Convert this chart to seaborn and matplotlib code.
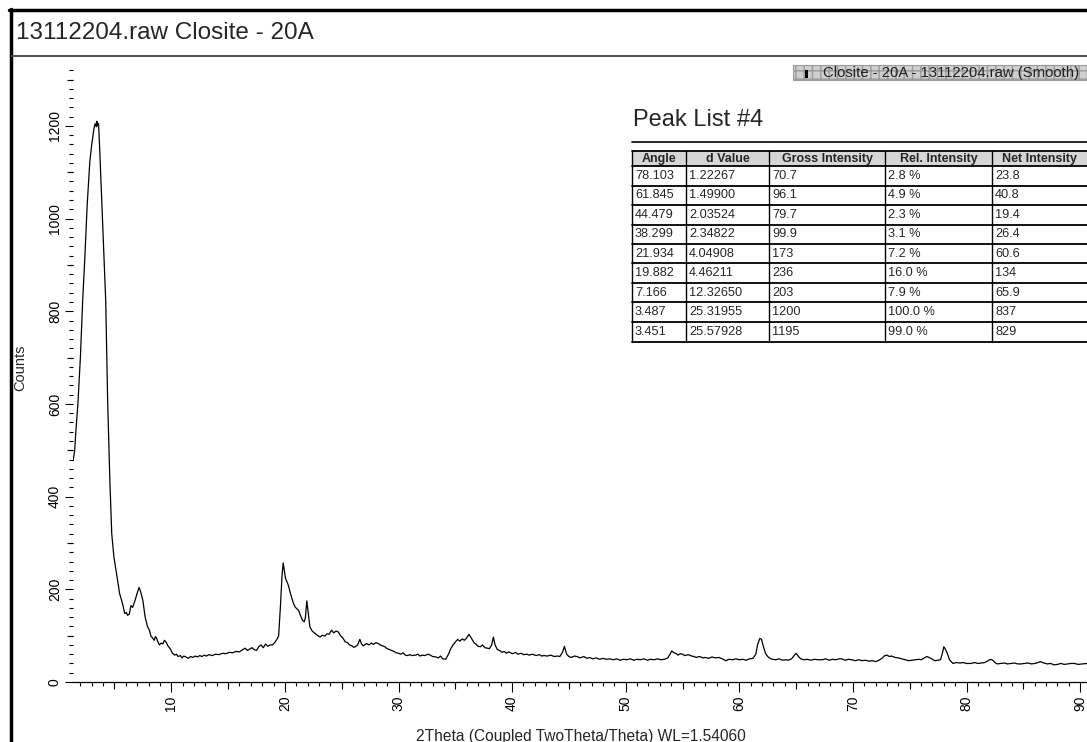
import numpy as np
import pandas as pd
import matplotlib
matplotlib.use("Agg")
import matplotlib.pyplot as plt
import seaborn as sns
from matplotlib.lines import Line2D
from matplotlib.patches import Rectangle

# ---------------- data ----------------
two_theta = [
    1.35, 1.5, 1.6, 1.78, 2.0, 2.2, 2.4, 2.6, 2.83, 3.0, 3.2, 3.3, 3.4, 3.45, 3.5, 3.6, 3.7, 3.87, 4.05, 4.23,
    4.4, 4.6, 4.76, 4.95, 5.1, 5.3, 5.45, 5.63, 5.75, 5.9, 6.05, 6.15, 6.3, 6.45, 6.6, 6.8, 7.0, 7.17, 7.3, 7.4,
    7.5, 7.7, 7.9, 8.07, 8.2, 8.35, 8.5, 8.6, 8.7, 8.8, 8.95, 9.1, 9.25, 9.4, 9.55, 9.7, 9.8, 9.95, 10.1, 10.3,
    10.45, 10.6, 10.8, 10.95, 11.1, 11.3, 11.5, 11.7, 11.9, 12.1, 12.3, 12.5, 12.7, 12.9, 13.1, 13.3, 13.6, 13.9, 14.2, 14.5,
    14.8, 15.1, 15.4, 15.7, 16.0, 16.3, 16.5, 16.7, 16.9, 17.1, 17.3, 17.5, 17.7, 17.9, 18.1, 18.3, 18.5, 18.7, 18.9, 19.1,
    19.3, 19.45, 19.6, 19.75, 19.85, 19.95, 20.05, 20.2, 20.3, 20.5, 20.75, 20.9, 21.05, 21.2, 21.35, 21.55, 21.7, 21.8, 21.93, 22.05,
    22.2, 22.4, 22.65, 22.9, 23.1, 23.3, 23.5, 23.7, 23.9, 24.1, 24.3, 24.5, 24.7, 24.9, 25.1, 25.3, 25.5, 25.7, 25.9, 26.05,
    26.2, 26.4, 26.6, 26.75, 26.9, 27.0, 27.2, 27.4, 27.6, 27.8, 28.0, 28.2, 28.4, 28.6, 28.8, 29.0, 29.2, 29.4, 29.6, 29.8,
    30.0, 30.2, 30.4, 30.6, 30.8, 31.0, 31.2, 31.5, 31.7, 31.9, 32.1, 32.3, 32.6, 32.8, 33.0, 33.3, 33.5, 33.7, 33.9, 34.15,
    34.4, 34.6, 34.8, 35.0, 35.2, 35.4, 35.6, 35.8, 36.0, 36.2, 36.4, 36.65, 36.8, 37.0, 37.2, 37.4, 37.6, 37.8, 38.0, 38.2,
    38.35, 38.5, 38.7, 38.9, 39.1, 39.3, 39.5, 39.7, 39.85, 40.05, 40.3, 40.5, 40.8, 41.0, 41.3, 41.5, 41.8, 42.1, 42.4, 42.6,
    42.8, 43.1, 43.4, 43.7, 44.0, 44.2, 44.45, 44.6, 44.8, 45.0, 45.2, 45.5, 45.7, 46.0, 46.3, 46.6, 46.8, 47.1, 47.4, 47.7,
    48.0, 48.3, 48.6, 48.9, 49.2, 49.5, 49.8, 50.1, 50.4, 50.7, 51.0, 51.3, 51.6, 51.9, 52.2, 52.5, 52.8, 53.1, 53.4, 53.7,
    53.9, 54.05, 54.25, 54.4, 54.6, 54.8, 55.0, 55.2, 55.5, 55.8, 56.0, 56.2, 56.5, 56.8, 57.0, 57.3, 57.6, 57.9, 58.2, 58.5,
    58.8, 59.1, 59.4, 59.7, 60.0, 60.3, 60.6, 60.9, 61.2, 61.45, 61.6, 61.8, 61.95, 62.1, 62.3, 62.5, 62.7, 62.9, 63.2, 63.5,
    63.8, 64.1, 64.3, 64.6, 64.85, 65.0, 65.2, 65.4, 65.7, 66.0, 66.3, 66.6, 66.9, 67.3, 67.6, 67.9, 68.2, 68.5, 68.8, 69.0,
    69.3, 69.6, 69.9, 70.2, 70.5, 70.8, 71.1, 71.4, 71.7, 72.0, 72.3, 72.6, 72.8, 73.0, 73.2, 73.4, 73.7, 74.0, 74.3, 74.6,
    74.9, 75.2, 75.5, 75.8, 76.0, 76.3, 76.5, 76.7, 77.0, 77.2, 77.5, 77.7, 77.85, 78.0, 78.15, 78.3, 78.5, 78.8, 79.1, 79.4,
    79.7, 80.0, 80.4, 80.7, 81.0, 81.3, 81.6, 81.9, 82.1, 82.3, 82.5, 82.7, 83.0, 83.3, 83.6, 83.9, 84.2, 84.5, 84.8, 85.1,
    85.4, 85.7, 86.0, 86.3, 86.5, 86.8, 87.1, 87.4, 87.7, 88.0, 88.3, 88.6, 88.9, 89.2, 89.5, 89.8, 90.2, 90.6, 91.0,
]
counts = [
    477, 500, 540, 600, 700, 822, 920, 1030, 1123, 1160, 1195, 1205, 1198, 1210, 1200, 1205, 1150, 1043, 930, 822,
    606, 430, 320, 270, 247, 215, 191, 176, 165, 148, 150, 144, 146, 165, 161, 175, 192, 204, 195, 185,
    176, 140, 120, 112, 100, 95, 90, 98, 95, 88, 80, 84, 82, 90, 86, 78, 75, 70, 62, 58,
    60, 55, 57, 52, 56, 54, 51, 55, 53, 56, 54, 57, 55, 58, 56, 59, 57, 60, 59, 62,
    61, 64, 63, 66, 65, 70, 73, 68, 71, 74, 70, 68, 76, 80, 74, 82, 77, 80, 80, 85,
    92, 100, 160, 230, 257, 240, 224, 215, 209, 190, 170, 162, 158, 155, 145, 133, 130, 138, 175, 150,
    119, 110, 105, 100, 97, 101, 99, 104, 103, 112, 106, 110, 108, 100, 95, 87, 85, 80, 78, 75,
    76, 80, 92, 82, 78, 80, 83, 80, 84, 81, 85, 83, 80, 78, 76, 72, 70, 68, 66, 63,
    62, 60, 63, 58, 57, 59, 57, 58, 60, 56, 58, 57, 60, 58, 55, 54, 52, 56, 50, 49,
    60, 72, 80, 86, 92, 88, 93, 90, 95, 103, 95, 85, 82, 77, 76, 80, 74, 73, 72, 80,
    97, 80, 70, 68, 64, 66, 62, 65, 63, 61, 64, 60, 62, 59, 60, 58, 60, 57, 59, 56,
    57, 56, 58, 55, 56, 55, 65, 77, 60, 55, 53, 56, 55, 52, 55, 51, 53, 50, 52, 49,
    51, 49, 50, 48, 50, 47, 49, 48, 50, 47, 49, 48, 50, 47, 49, 48, 50, 48, 49, 52,
    60, 67, 63, 62, 58, 61, 60, 57, 59, 56, 55, 53, 55, 52, 53, 51, 54, 52, 53, 50,
    46, 49, 48, 50, 48, 49, 47, 50, 51, 60, 80, 94, 92, 78, 62, 55, 51, 49, 48, 50,
    47, 48, 47, 50, 58, 62, 55, 50, 48, 49, 47, 49, 48, 48, 50, 47, 49, 48, 50, 50,
    47, 49, 48, 46, 48, 46, 47, 45, 46, 44, 47, 52, 57, 58, 55, 56, 53, 52, 50, 48,
    46, 47, 48, 49, 48, 52, 55, 53, 49, 46, 47, 48, 60, 76, 70, 62, 48, 40, 42, 41,
    42, 40, 40, 42, 40, 41, 42, 46, 49, 47, 42, 39, 40, 41, 39, 40, 41, 39, 39, 40,
    41, 39, 40, 42, 44, 41, 39, 40, 37, 38, 40, 38, 39, 40, 40, 38, 39, 40, 39,
]

x_ticks = [10, 20, 30, 40, 50, 60, 70, 80, 90]
y_ticks = [0, 200, 400, 600, 800, 1000, 1200]

table_columns = ["Angle", "d Value", "Gross Intensity", "Rel. Intensity", "Net Intensity"]
peak_angle = ["78.103", "61.845", "44.479", "38.299", "21.934", "19.882", "7.166", "3.487", "3.451"]
peak_d = ["1.22267", "1.49900", "2.03524", "2.34822", "4.04908", "4.46211", "12.32650", "25.31955", "25.57928"]
peak_gross = ["70.7", "96.1", "79.7", "99.9", "173", "236", "203", "1200", "1195"]
peak_rel = ["2.8 %", "4.9 %", "2.3 %", "3.1 %", "7.2 %", "16.0 %", "7.9 %", "100.0 %", "99.0 %"]
peak_net = ["23.8", "40.8", "19.4", "26.4", "60.6", "134", "65.9", "837", "829"]

# ---------------- style ----------------
sns.set_style("ticks")
plt.rcParams["font.family"] = ["Liberation Sans", "DejaVu Sans"]

W, H = 1087, 742
fig = plt.figure(figsize=(W / 100, H / 100), dpi=100)
fig.patch.set_facecolor("white")


def fx(px):
    return px / W


def fy(py):
    return 1 - py / H


# axes placement (pixels)
ax_l, ax_r, ax_t, ax_b = 73, 1087, 67, 682
pos = [fx(ax_l), fy(ax_b), fx(ax_r) - fx(ax_l), fy(ax_t) - fy(ax_b)]
ax = fig.add_axes(pos)
ax.set_facecolor("none")

df = pd.DataFrame({"two_theta": two_theta, "counts": counts})
sns.lineplot(data=df, x="two_theta", y="counts", ax=ax, color="black",
             linewidth=0.9, estimator=None, sort=True)

xlim = (1.35, 90.6)
ylim = (0, 1327)
ax.set_xlim(*xlim)
ax.set_ylim(*ylim)

for s in ["top", "right", "left"]:
    ax.spines[s].set_visible(False)
ax.spines["bottom"].set_color("black")
ax.spines["bottom"].set_linewidth(0.9)

ax.set_xticks(x_ticks)
ax.set_xticklabels([str(v) for v in x_ticks], rotation=90, fontsize=10)
ax.set_yticks(y_ticks)
ax.set_yticklabels([str(v) for v in y_ticks], rotation=90, fontsize=10, va="center")
ax.set_xticks(np.arange(2, 91, 1), minor=True)
ax.set_yticks(np.arange(0, 1321, 20), minor=True)
ax.tick_params(axis="x", which="major", direction="out", length=7.5, width=0.8, pad=2, colors="black")
ax.tick_params(axis="x", which="minor", direction="out", length=3.2, width=0.8, colors="black")
ax.tick_params(axis="y", which="major", direction="out", length=6, width=0.8, pad=2, colors="black")
ax.tick_params(axis="y", which="minor", direction="out", length=3.0, width=0.8, colors="black")
ax.set_xlabel("")
ax.set_ylabel("")

# medium ticks overlay
axm = fig.add_axes(pos)
axm.set_facecolor("none")
axm.set_xlim(*xlim)
axm.set_ylim(*ylim)
for s in axm.spines.values():
    s.set_visible(False)
axm.set_xticks(np.arange(5, 91, 10))
axm.set_yticks(np.arange(100, 1321, 200))
axm.set_xticklabels([])
axm.set_yticklabels([])
axm.tick_params(axis="x", direction="out", length=5.2, width=0.8, colors="black")
axm.tick_params(axis="y", direction="out", length=4.5, width=0.8, colors="black")

# axis titles
fig.text(fx(20), fy(368), "Counts", rotation=90, ha="center", va="center", fontsize=10.5)
fig.text(fx(581), fy(736), "2Theta (Coupled TwoTheta/Theta) WL=1.54060", ha="center", va="center", fontsize=11.2)

# frame and title bar
fig.add_artist(Line2D([fx(9), fx(1087)], [fy(10), fy(10)], transform=fig.transFigure, color="black", linewidth=2.5))
fig.add_artist(Line2D([fx(10.5), fx(10.5)], [fy(9), fy(742)], transform=fig.transFigure, color="black", linewidth=2.5))
fig.add_artist(Line2D([fx(12), fx(1087)], [fy(55.5), fy(55.5)], transform=fig.transFigure, color="#555555", linewidth=1.5))
fig.text(fx(16), fy(33), "13112204.raw Closite - 20A", ha="left", va="center", fontsize=17.5)

# legend box
fig.add_artist(Rectangle((fx(793), fy(80)), fx(1087) - fx(793), fy(65) - fy(80), transform=fig.transFigure,
                         facecolor="#cfcfcf", edgecolor="#9a9a9a", hatch="++", linewidth=0.8))
fig.add_artist(Rectangle((fx(805), fy(78)), fx(3), fy(70) - fy(78), transform=fig.transFigure,
                         facecolor="black", edgecolor="black", linewidth=0))
fig.text(fx(823), fy(73), "Closite - 20A - 13112204.raw (Smooth)", ha="left", va="center", fontsize=10.7, color="#222222")

# Peak list
fig.text(fx(633), fy(120), "Peak List #4", ha="left", va="center", fontsize=17)
fig.add_artist(Line2D([fx(632), fx(1087)], [fy(142), fy(142)], transform=fig.transFigure, color="black", linewidth=1.2))

col_x = [632, 686, 769, 885, 992, 1100]
hdr_top, hdr_bot = 151, 166
row_h = 19.5
n_rows = len(peak_angle)
tbl_bot = hdr_bot + n_rows * row_h
fig.add_artist(Rectangle((fx(632), fy(hdr_bot)), fx(1087) - fx(632), fy(hdr_top) - fy(hdr_bot),
                         transform=fig.transFigure, facecolor="#d6d6d6", edgecolor="none"))
for yy in [hdr_top, hdr_bot] + [hdr_bot + (i + 1) * row_h for i in range(n_rows)]:
    fig.add_artist(Line2D([fx(632), fx(1087)], [fy(yy), fy(yy)], transform=fig.transFigure, color="black", linewidth=1.3))
for xx in col_x[:-1]:
    fig.add_artist(Line2D([fx(xx), fx(xx)], [fy(hdr_top), fy(tbl_bot)], transform=fig.transFigure, color="black", linewidth=1.0))
for j, name in enumerate(table_columns):
    cx = (col_x[j] + min(col_x[j + 1], 1087)) / 2
    fig.text(fx(cx), fy((hdr_top + hdr_bot) / 2 + 0.5), name, ha="center", va="center", fontsize=9, fontweight="bold")
cols = [peak_angle, peak_d, peak_gross, peak_rel, peak_net]
for i in range(n_rows):
    yc = hdr_bot + (i + 0.5) * row_h
    for j, col in enumerate(cols):
        fig.text(fx(col_x[j] + 3), fy(yc), col[i], ha="left", va="center", fontsize=9.2)

fig.savefig("out.png", dpi=100)
